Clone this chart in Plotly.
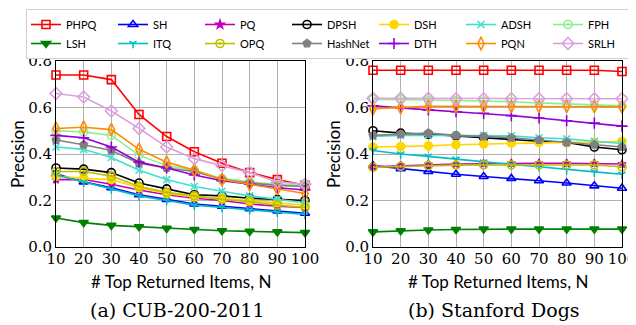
import plotly.graph_objects as go

N = [10, 20, 30, 40, 50, 60, 70, 80, 90, 100]

# CUB-200-2011
cub = {
    "PHPQ":    [0.74, 0.74, 0.72, 0.57, 0.475, 0.41, 0.36, 0.32, 0.29, 0.265],
    "SH":      [0.315, 0.28, 0.255, 0.225, 0.205, 0.185, 0.175, 0.165, 0.155, 0.145],
    "PQ":      [0.29, 0.29, 0.27, 0.245, 0.225, 0.21, 0.20, 0.185, 0.175, 0.17],
    "DPSH":    [0.34, 0.335, 0.32, 0.275, 0.25, 0.225, 0.22, 0.21, 0.205, 0.20],
    "DSH":     [0.305, 0.295, 0.29, 0.255, 0.23, 0.215, 0.21, 0.20, 0.19, 0.18],
    "ADSH":    [0.43, 0.42, 0.385, 0.33, 0.29, 0.26, 0.24, 0.22, 0.205, 0.19],
    "FPH":     [0.50, 0.495, 0.48, 0.395, 0.35, 0.33, 0.295, 0.28, 0.27, 0.265],
    "LSH":     [0.125, 0.105, 0.093, 0.087, 0.08, 0.075, 0.07, 0.067, 0.065, 0.062],
    "ITQ":     [0.31, 0.28, 0.25, 0.22, 0.20, 0.18, 0.17, 0.16, 0.15, 0.14],
    "OPQ":     [0.325, 0.325, 0.305, 0.26, 0.235, 0.22, 0.205, 0.195, 0.18, 0.17],
    "HashNet": [0.46, 0.44, 0.415, 0.36, 0.34, 0.325, 0.29, 0.275, 0.265, 0.26],
    "DTH":     [0.48, 0.47, 0.43, 0.365, 0.34, 0.31, 0.285, 0.27, 0.255, 0.245],
    "PQN":     [0.51, 0.515, 0.505, 0.42, 0.365, 0.33, 0.29, 0.27, 0.25, 0.23],
    "SRLH":    [0.66, 0.645, 0.585, 0.51, 0.43, 0.38, 0.35, 0.32, 0.28, 0.27],
}

# Stanford Dogs
dogs = {
    "PHPQ":    [0.76, 0.76, 0.76, 0.76, 0.76, 0.76, 0.76, 0.76, 0.76, 0.755],
    "SH":      [0.35, 0.337, 0.325, 0.313, 0.303, 0.295, 0.285, 0.275, 0.263, 0.253],
    "PQ":      [0.345, 0.35, 0.355, 0.357, 0.358, 0.36, 0.36, 0.36, 0.36, 0.357],
    "DPSH":    [0.50, 0.49, 0.485, 0.477, 0.47, 0.462, 0.455, 0.45, 0.43, 0.418],
    "DSH":     [0.43, 0.432, 0.435, 0.44, 0.443, 0.447, 0.45, 0.45, 0.45, 0.455],
    "ADSH":    [0.475, 0.48, 0.48, 0.48, 0.48, 0.478, 0.47, 0.465, 0.455, 0.445],
    "FPH":     [0.635, 0.635, 0.632, 0.63, 0.628, 0.625, 0.62, 0.615, 0.61, 0.607],
    "LSH":     [0.065, 0.07, 0.073, 0.075, 0.077, 0.077, 0.077, 0.077, 0.077, 0.077],
    "ITQ":     [0.415, 0.40, 0.39, 0.378, 0.365, 0.355, 0.345, 0.333, 0.323, 0.313],
    "OPQ":     [0.343, 0.347, 0.35, 0.352, 0.353, 0.353, 0.353, 0.353, 0.353, 0.345],
    "HashNet": [0.48, 0.485, 0.49, 0.48, 0.475, 0.47, 0.46, 0.45, 0.44, 0.43],
    "DTH":     [0.607, 0.60, 0.59, 0.582, 0.575, 0.565, 0.555, 0.543, 0.533, 0.52],
    "PQN":     [0.595, 0.60, 0.605, 0.605, 0.605, 0.605, 0.605, 0.605, 0.605, 0.603],
    "SRLH":    [0.64, 0.64, 0.64, 0.638, 0.638, 0.638, 0.638, 0.638, 0.638, 0.638],
}

colors = {
    "PHPQ": "#ff0000", "LSH": "#008000", "SH": "#0000ff", "ITQ": "#00bfbf",
    "PQ": "#bf00bf", "OPQ": "#bfbf00", "DPSH": "#000000", "HashNet": "#808080",
    "DSH": "#ffd700", "DTH": "#9400d3", "ADSH": "#40e0d0", "PQN": "#ff8c00",
    "FPH": "#90ee90", "SRLH": "#dda0dd",
}
symbols = {
    "PHPQ": "square-open", "LSH": "triangle-down", "SH": "triangle-up-open",
    "ITQ": "y-down-open", "PQ": "star", "OPQ": "circle-open-dot",
    "DPSH": "circle-open", "HashNet": "pentagon", "DSH": "circle",
    "DTH": "cross-thin-open", "ADSH": "x-thin-open", "PQN": "diamond-tall-open",
    "FPH": "circle-open-dot", "SRLH": "diamond-open",
}
sizes = {
    "PHPQ": 8, "LSH": 8, "SH": 8, "ITQ": 6, "PQ": 6, "OPQ": 8, "DPSH": 8,
    "HashNet": 8, "DSH": 8, "DTH": 8, "ADSH": 7, "PQN": 9, "FPH": 8, "SRLH": 9,
}

order = ["PHPQ", "SH", "PQ", "DPSH", "DSH", "ADSH", "FPH",
         "LSH", "ITQ", "OPQ", "HashNet", "DTH", "PQN", "SRLH"]

fig = go.Figure()
for name in order:
    for data, xa, ya, show in [(cub, "x", "y", True), (dogs, "x2", "y2", False)]:
        c = colors[name]
        fig.add_trace(go.Scatter(
            x=N, y=data[name], name=name, mode="lines+markers",
            xaxis=xa, yaxis=ya, showlegend=show, legendgroup=name,
            line=dict(color=c, width=1.6),
            marker=dict(symbol=symbols[name], size=sizes[name], color=c,
                        line=dict(color=c, width=1.6)),
            cliponaxis=False,
        ))

# page body has an 8px margin: work in viewport pixels and shift
W, H, OFF = 628, 317, 8
def px(x):
    return (x - OFF) / W
def py(y):
    return 1 - (y - OFF) / H

tickfont = dict(family="DejaVu Serif", size=15, color="#000")
labfont = dict(family="Lato", size=17, color="#000")
ax_common = dict(showgrid=True, gridcolor="#b0b0b0", gridwidth=1,
                 showline=True, linecolor="#000", linewidth=1, mirror=True,
                 ticks="", automargin=False, ticklabeloverflow="allow",
                 tickfont=tickfont, zeroline=False)

xd1 = [px(56), px(305)]
xd2 = [px(373), px(622)]
yd = [py(247), py(61)]

fig.update_layout(
    template="none",
    width=W, height=H,
    margin=dict(l=0, r=0, t=0, b=0),
    paper_bgcolor="white", plot_bgcolor="white",
    font=dict(family="Lato", color="#000"),
    xaxis=dict(domain=xd1, range=[10, 100], dtick=10, anchor="y", ticklabelstandoff=-2, **ax_common),
    yaxis=dict(domain=yd, range=[0, 0.8], dtick=0.2, tickformat=".1f", anchor="x", ticklabelstandoff=0, **ax_common),
    xaxis2=dict(domain=xd2, range=[10, 100], dtick=10, anchor="y2", ticklabelstandoff=-2, **ax_common),
    yaxis2=dict(domain=yd, range=[0, 0.8], dtick=0.2, tickformat=".1f", anchor="x2", ticklabelstandoff=0, **ax_common),
    legend=dict(orientation="h", x=px(55), y=py(9), xanchor="left", yanchor="top",
                font=dict(family="Lato", size=11, color="#000"),
                bordercolor="#d0d0d0", borderwidth=1, bgcolor="white",
                entrywidth=42, entrywidthmode="pixels", itemwidth=30,
                tracegroupgap=0),
    showlegend=True,
)

annotations = [
    dict(text="Precision", x=px(17), y=(yd[0]+yd[1])/2, textangle=-90, font=labfont),
    dict(text="Precision", x=px(333), y=(yd[0]+yd[1])/2, textangle=-90, font=labfont),
    dict(text="# Top Returned Items, N", x=(xd1[0]+xd1[1])/2, y=py(281), font=labfont),
    dict(text="# Top Returned Items, N", x=(xd2[0]+xd2[1])/2, y=py(281), font=labfont),
    dict(text="(a) CUB-200-2011", x=px(177), y=py(310),
         font=dict(family="DejaVu Serif", size=19, color="#000")),
    dict(text="(b) Stanford Dogs", x=px(494), y=py(310),
         font=dict(family="DejaVu Serif", size=19, color="#000")),
]
for a in annotations:
    a.update(xref="paper", yref="paper", showarrow=False, xanchor="center", yanchor="middle")
fig.update_layout(annotations=annotations)

fig.write_html("out.html")
